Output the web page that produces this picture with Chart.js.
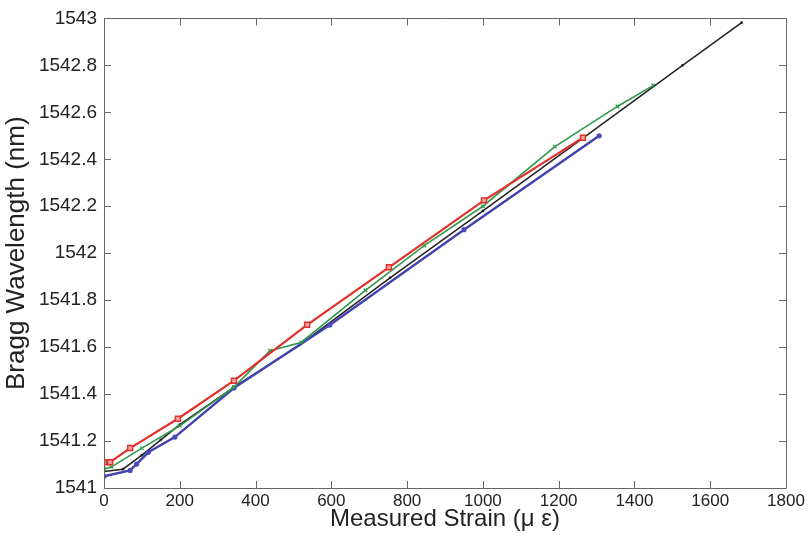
<!DOCTYPE html>
<html><head><meta charset="utf-8">
<script src="https://cdn.jsdelivr.net/npm/chart.js@4/dist/chart.umd.min.js"></script>
<style>html,body{margin:0;padding:0;background:#fff}#wrap{width:811px;height:548px}</style>
</head><body><div id="wrap"><canvas id="c" width="811" height="548"></canvas></div>
<script>
// ---- data ----
const xTickValues = [0, 200, 400, 600, 800, 1000, 1200, 1400, 1600, 1800];
const yTickValues = [1541, 1541.2, 1541.4, 1541.6, 1541.8, 1542, 1542.2, 1542.4, 1542.6, 1542.8, 1543];

const redStrain = [0, 16, 69, 195, 343, 536, 752, 1003, 1264];
const redWavelength = [1541.11, 1541.11, 1541.17, 1541.295, 1541.457, 1541.695, 1541.94, 1542.225, 1542.492];

const greenStrain = [0, 20, 100, 200, 343, 438, 520, 690, 845, 1000, 1190, 1355, 1450];
const greenWavelength = [1541.08, 1541.09, 1541.17, 1541.265, 1541.43, 1541.585, 1541.62, 1541.842, 1542.032, 1542.2, 1542.454, 1542.625, 1542.715];

const blueStrain = [0, 69, 86, 117, 187, 343, 596, 950, 1307];
const blueWavelength = [1541.05, 1541.075, 1541.102, 1541.152, 1541.217, 1541.426, 1541.694, 1542.1, 1542.5];

const blackStrain = [0, 50, 100, 150, 200, 343, 517, 755, 1000, 1264, 1527, 1683];
const blackWavelength = [1541.07, 1541.08, 1541.14, 1541.205, 1541.27, 1541.43, 1541.61, 1541.895, 1542.18, 1542.49, 1542.8, 1542.982];

const toPoints = (xs, ys) => xs.map((x, i) => ({x: x, y: ys[i]}));
const FONT = "'Liberation Sans', Arial, Helvetica, sans-serif";

// plugin: MATLAB-style box with inward ticks, drawn from the chart's own scales
const boxTicks = {
  id: 'boxTicks',
  afterDatasetsDraw(chart) {
    const {ctx, chartArea: a, scales: {x, y}} = chart;
    const L = 7;
    ctx.save();
    ctx.strokeStyle = '#666';
    ctx.lineWidth = 1;
    ctx.beginPath();
    ctx.rect(Math.round(a.left) + 0.5, Math.round(a.top) + 0.5, Math.round(a.right - a.left), Math.round(a.bottom - a.top));
    x.ticks.forEach(t => {
      const px = Math.round(x.getPixelForValue(t.value)) + 0.5;
      ctx.moveTo(px, a.bottom); ctx.lineTo(px, a.bottom - L);
      ctx.moveTo(px, a.top); ctx.lineTo(px, a.top + L);
    });
    y.ticks.forEach(t => {
      const py = Math.round(y.getPixelForValue(t.value)) + 0.5;
      ctx.moveTo(a.left, py); ctx.lineTo(a.left + L, py);
      ctx.moveTo(a.right, py); ctx.lineTo(a.right - L, py);
    });
    ctx.stroke();
    ctx.restore();
  }
};

new Chart(document.getElementById('c'), {
  type: 'line',
  data: {
    datasets: [
      {label: 'red', data: toPoints(redStrain, redWavelength), borderColor: '#e2302c', backgroundColor: '#f6b8b0',
       borderWidth: 2.2, pointStyle: 'rect', pointRadius: 3.5, pointBorderWidth: 1.5, pointBorderColor: '#e2302c', pointBackgroundColor: '#f4a9a0'},
      {label: 'green', data: toPoints(greenStrain, greenWavelength), borderColor: '#2f9a4a', backgroundColor: '#2f9a4a',
       borderWidth: 1.6, pointStyle: 'crossRot', pointRadius: 2.5, pointBorderWidth: 1.2, pointBorderColor: '#2f9a4a'},
      {label: 'blue', data: toPoints(blueStrain, blueWavelength), borderColor: '#4242b0', backgroundColor: '#4242b0',
       borderWidth: 2.4, pointStyle: 'circle', pointRadius: 2.6, pointBorderWidth: 0, pointBackgroundColor: '#4a4ab8'},
      {label: 'black', data: toPoints(blackStrain, blackWavelength), borderColor: '#222', backgroundColor: '#222',
       borderWidth: 1.5, pointStyle: 'circle', pointRadius: 1.4, pointBorderWidth: 0, pointBackgroundColor: '#222'}
    ]
  },
  options: {
    responsive: false,
    animation: false,
    devicePixelRatio: 1,
    layout: {padding: {top: 14, right: 25, left: 0, bottom: 0}},
    plugins: {legend: {display: false}, tooltip: {enabled: false}},
    elements: {line: {tension: 0, fill: false}},
    scales: {
      x: {
        type: 'linear', min: 0, max: 1800,
        afterBuildTicks: s => { s.ticks = xTickValues.map(v => ({value: v})); },
        afterFit: s => { s.height = 60; },
        grid: {display: false, drawTicks: false},
        border: {display: false},
        ticks: {padding: 3, color: '#222', font: {family: FONT, size: 17}, maxRotation: 0, callback: v => String(v)},
        title: {display: true, text: 'Measured Strain (\u03bc \u03b5)', color: '#222', font: {family: FONT, size: 24}, padding: {top: 0, bottom: 14}}
      },
      y: {
        type: 'linear', min: 1541, max: 1543,
        afterBuildTicks: s => { s.ticks = yTickValues.map(v => ({value: v})); },
        afterFit: s => { s.width = 104; },
        grid: {display: false, drawTicks: false},
        border: {display: false},
        ticks: {padding: 7, color: '#222', font: {family: FONT, size: 19}, callback: v => String(Number(v.toFixed(1)))},
        title: {display: true, text: 'Bragg Wavelength (nm)', color: '#222', font: {family: FONT, size: 26}, padding: {top: 1, bottom: 0}}
      }
    }
  },
  plugins: [boxTicks]
});
</script>
</body></html>
